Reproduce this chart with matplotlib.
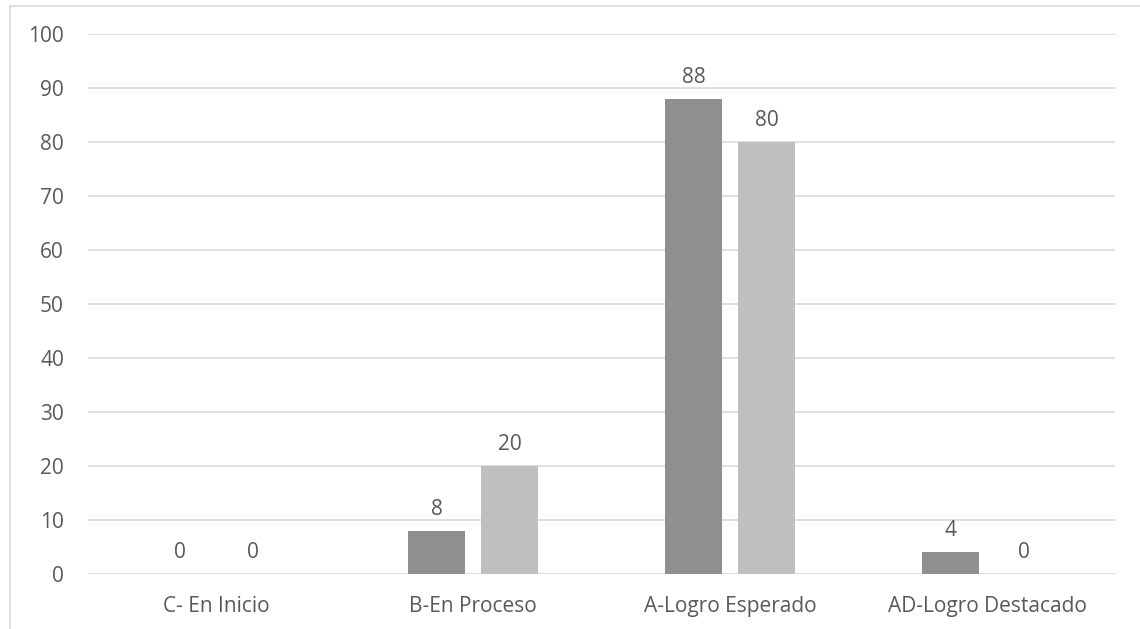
import matplotlib.pyplot as plt
import numpy as np
from matplotlib.lines import Line2D

categorias = ['C- En Inicio', 'B-En Proceso', 'A-Logro Esperado', 'AD-Logro Destacado']
serie1 = [0, 8, 88, 4]
serie2 = [0, 20, 80, 0]

plt.rcParams['font.family'] = ['Open Sans', 'DejaVu Sans']
texto = '#595959'

fig = plt.figure(figsize=(11.4, 6.29), dpi=100)
ax = fig.add_axes([0.0768, 0.0874, 0.9017, 0.8586])

x = np.arange(len(categorias))
ancho = 0.222
off = 0.142
b1 = ax.bar(x - off, serie1, ancho, color='#8f8f8f', zorder=3)
b2 = ax.bar(x + off, serie2, ancho, color='#bfbfbf', zorder=3)

for barras in (b1, b2):
    for b in barras:
        ax.annotate('%d' % b.get_height(), (b.get_x() + b.get_width() / 2, b.get_height()),
                    xytext=(0, 8), textcoords='offset points', ha='center', va='bottom',
                    fontsize=15, color=texto)

ax.set_xlim(-0.5, 3.5)
ax.set_ylim(0, 100)
ax.set_yticks(range(0, 101, 10))
ax.set_xticks(x)
ax.set_xticklabels(categorias)
ax.yaxis.grid(True, color='#d9d9d9', linewidth=1.2, zorder=0)
for s in ax.spines.values():
    s.set_visible(False)
ax.tick_params(axis='y', length=0, pad=17, labelsize=15, labelcolor=texto)
ax.tick_params(axis='x', length=0, pad=16, labelsize=15, labelcolor=texto)

# borde del grafico
fig.add_artist(Line2D([10 / 1140, 10 / 1140], [0, 1 - 6 / 629], transform=fig.transFigure, color='#d9d9d9', lw=1.2))
fig.add_artist(Line2D([10 / 1140, 1], [1 - 6 / 629, 1 - 6 / 629], transform=fig.transFigure, color='#d9d9d9', lw=1.2))

fig.savefig('out.png', dpi=100)
